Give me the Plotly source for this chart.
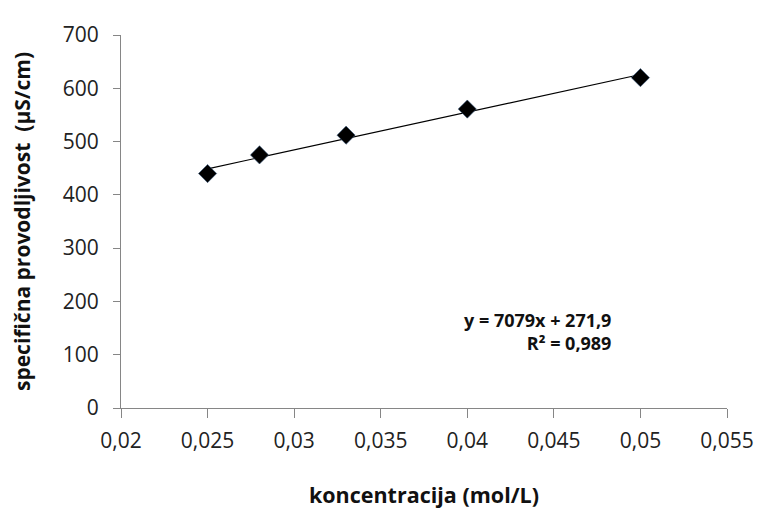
import plotly.graph_objects as go

concentration = [0.025, 0.028, 0.033, 0.040, 0.050]
conductivity = [440, 475, 512, 561, 620]
slope = 7079
intercept = 271.9
r_squared = "0,989"

x_tickvals = [0.02, 0.025, 0.03, 0.035, 0.04, 0.045, 0.05, 0.055]
x_ticktext = ["0,02", "0,025", "0,03", "0,035", "0,04", "0,045", "0,05", "0,055"]
y_tickvals = [0, 100, 200, 300, 400, 500, 600, 700]

trend_x = [min(concentration), max(concentration)]
trend_y = [slope * v + intercept for v in trend_x]

fig = go.Figure()
fig.add_trace(go.Scatter(x=trend_x, y=trend_y, mode="lines",
                         line=dict(color="black", width=1.2), showlegend=False, hoverinfo="skip"))
fig.add_trace(go.Scatter(x=concentration, y=conductivity, mode="markers",
                         marker=dict(symbol="diamond", size=14, color="black",
                                     line=dict(color="#3a5a80", width=0.6)),
                         showlegend=False))

font_family = "Open Sans"
fig.update_layout(
    width=768, height=514,
    margin=dict(l=113, r=49, t=18, b=114),
    paper_bgcolor="white", plot_bgcolor="white",
    font=dict(family=font_family, color="#222"),
    xaxis=dict(range=[0.02, 0.055], tickvals=x_tickvals, ticktext=x_ticktext,
               showgrid=False, zeroline=False, showline=True, linecolor="#868686", linewidth=1.3,
               ticks="outside", ticklen=9, tickcolor="#868686", tickwidth=1,
               ticklabelstandoff=5,
               tickfont=dict(size=21, family=font_family, color="#222"),
               title=dict(text="<b>koncentracija (mol/L)</b>", font=dict(size=21.5, family=font_family, color="#111"),
                          standoff=34)),
    yaxis=dict(range=[0, 700], tickvals=y_tickvals,
               showgrid=False, zeroline=False, showline=True, linecolor="#868686", linewidth=1,
               ticks="outside", ticklen=7, tickcolor="#868686", tickwidth=1,
               ticklabelstandoff=10,
               tickfont=dict(size=21, family=font_family, color="#222"),
               title=dict(text="<b>specifična provodljivost  (µS/cm)</b>", font=dict(size=21, family=font_family, color="#111"),
                          standoff=27)),
    annotations=[dict(xref="paper", yref="paper", x=0.812, y=0.206, xanchor="right", yanchor="middle",
                      align="right", showarrow=False,
                      text=f"<b>y = {slope}x + {str(intercept).replace('.', ',')}<br>R² = {r_squared}</b>",
                      font=dict(size=18, family=font_family, color="#111"))],
)

fig.write_html("out.html")
